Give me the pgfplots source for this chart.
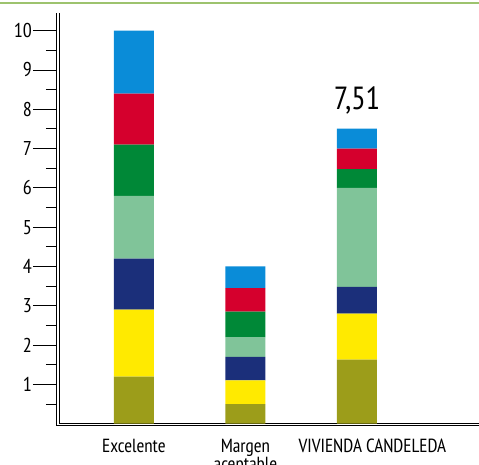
\documentclass[border=0pt]{standalone}
\usepackage{pgfplots}
\pgfplotsset{compat=1.18}
\usepackage{fontspec}
\setmainfont{PT Sans Narrow}

\definecolor{cblue}{HTML}{0A8CD8}
\definecolor{cred}{HTML}{D5002D}
\definecolor{cgreen}{HTML}{008837}
\definecolor{clgreen}{HTML}{80C499}
\definecolor{cnavy}{HTML}{1B2F7A}
\definecolor{cyellow}{HTML}{FFEA00}
\definecolor{colive}{HTML}{9C9D1A}
\definecolor{topline}{HTML}{9DC36E}

\begin{document}
\begin{tikzpicture}
\useasboundingbox (0,0) rectangle (479pt,465pt);
\draw[topline, line width=1.6pt] (0,462pt) -- (479pt,462pt);
\begin{axis}[
    at={(57.8pt,40.5pt)}, anchor=south west,
    scale only axis,
    width=421.2pt, height=411.5pt,
    xmin=0.317, xmax=4.095,
    ymin=-0.02, ymax=10.45,
    ybar stacked, bar width=40pt, bar shift=0pt,
    axis line style={draw=none},
    xtick={1,2,3},
    xticklabels={Excelente,{Margen\\aceptable},{\hspace*{31pt}VIVIENDA CANDELEDA}},
    xtick style={draw=none},
    x tick label style={align=center, yshift=14pt,
        font=\fontsize{19}{15}\selectfont},
    ytick={1,...,10},
    minor ytick={0.5,1.5,...,9.5},
    ytick pos=left,
    tick align=outside,
    major tick length=25pt,
    minor tick length=12pt,
    y tick style={black, line width=0.9pt},
    y tick label style={inner sep=0.8pt, font=\fontsize{20}{20}\selectfont},
    /pgf/number format/assume math mode=true,
    clip=false,
]
\addplot[fill=colive, draw=none]   coordinates {(1,1.2) (2,0.5)  (3,1.63)};
\addplot[fill=cyellow, draw=none]  coordinates {(1,1.7) (2,0.6)  (3,1.17)};
\addplot[fill=cnavy, draw=none]    coordinates {(1,1.3) (2,0.6)  (3,0.68)};
\addplot[fill=clgreen, draw=none]  coordinates {(1,1.6) (2,0.5)  (3,2.52)};
\addplot[fill=cgreen, draw=none]   coordinates {(1,1.3) (2,0.65) (3,0.48)};
\addplot[fill=cred, draw=none]     coordinates {(1,1.3) (2,0.6)  (3,0.52)};
\addplot[fill=cblue, draw=none]    coordinates {(1,1.6) (2,0.55) (3,0.51)};
\node[anchor=south, inner sep=0pt, font=\fontsize{32}{32}\selectfont]
    at (axis cs:3,7.51) [yshift=14pt] {7,51};
\draw[double, line width=0.9pt, double distance=1.8pt]
    (rel axis cs:0,1) -- (rel axis cs:0,0) -- (rel axis cs:1.1,0);
\end{axis}
\end{tikzpicture}
\end{document}
